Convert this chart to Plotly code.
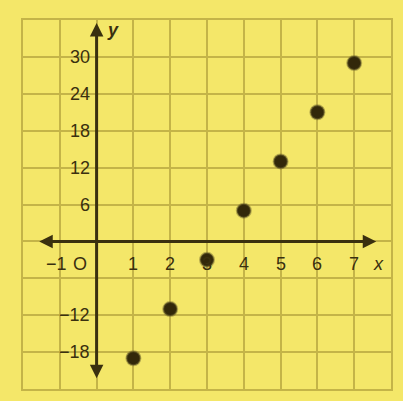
import plotly.graph_objects as go

# points
x_vals = [1, 2, 3, 4, 5, 6, 7]
y_vals = [-19, -11, -3, 5, 13, 21, 29]

# axis labels as printed on the grid
x_ticks = [-1.1, -0.45, 1, 2, 3, 4, 5, 6, 7]
x_tick_text = ['\u22121', 'O', '1', '2', '3', '4', '5', '6', '7']
y_ticks = [30, 24, 18, 12, 6, -12, -18]
y_tick_text = ['30', '24', '18', '12', '6', '\u221212', '\u221218']

bg = 'rgb(244,231,105)'
grid = 'rgb(196,180,72)'
ink = 'rgb(58,48,15)'
label_font = dict(family='Liberation Sans', size=18, color=ink)

fig = go.Figure()

fig.add_trace(go.Scatter(x=x_vals, y=y_vals, mode='markers', showlegend=False,
                         marker=dict(color='rgb(50,40,10)', size=14,
                                     line=dict(color='rgba(120,110,50,0.5)', width=2))))

annotations = []
# x axis with arrows at both ends
annotations.append(dict(x=7.6, y=0, ax=-1.6, ay=0, xref='x', yref='y', axref='x', ayref='y',
                        text='', showarrow=True, arrowhead=2, arrowsize=0.9, arrowwidth=3,
                        arrowcolor=ink, arrowside='end+start'))
# y axis with arrows at both ends
annotations.append(dict(x=0, y=35.5, ax=0, ay=-22.5, xref='x', yref='y', axref='x', ayref='y',
                        text='', showarrow=True, arrowhead=2, arrowsize=0.9, arrowwidth=3,
                        arrowcolor=ink, arrowside='end+start'))

for xv, label in zip(x_ticks, x_tick_text):
    annotations.append(dict(x=xv, y=-3.6, xref='x', yref='y', text=label, showarrow=False,
                            font=label_font))
annotations.append(dict(x=7.65, y=-3.6, xref='x', yref='y', text='<i>x</i>', showarrow=False,
                        font=label_font))

for yv, label in zip(y_ticks, y_tick_text):
    annotations.append(dict(x=-0.12, y=yv, xref='x', yref='y', text=label, showarrow=False,
                            xanchor='right', font=label_font))
annotations.append(dict(x=0.45, y=34.3, xref='x', yref='y', text='<b><i>y</i></b>', showarrow=False,
                        font=label_font))

fig.update_layout(width=403, height=401, margin=dict(l=23, r=10, t=20, b=12),
                  paper_bgcolor=bg, plot_bgcolor=bg, annotations=annotations)
fig.update_xaxes(range=[-2, 8], dtick=1, tick0=0, showgrid=True, gridcolor=grid, gridwidth=2,
                 zeroline=False, showticklabels=False, showline=True, linecolor=grid, linewidth=2,
                 mirror=True)
fig.update_yaxes(range=[-24, 36], dtick=6, tick0=0, showgrid=True, gridcolor=grid, gridwidth=2,
                 zeroline=False, showticklabels=False, showline=True, linecolor=grid, linewidth=2,
                 mirror=True)

fig.write_html("out.html", config={'displayModeBar': False},
               post_script="document.body.style.margin='0px';")
